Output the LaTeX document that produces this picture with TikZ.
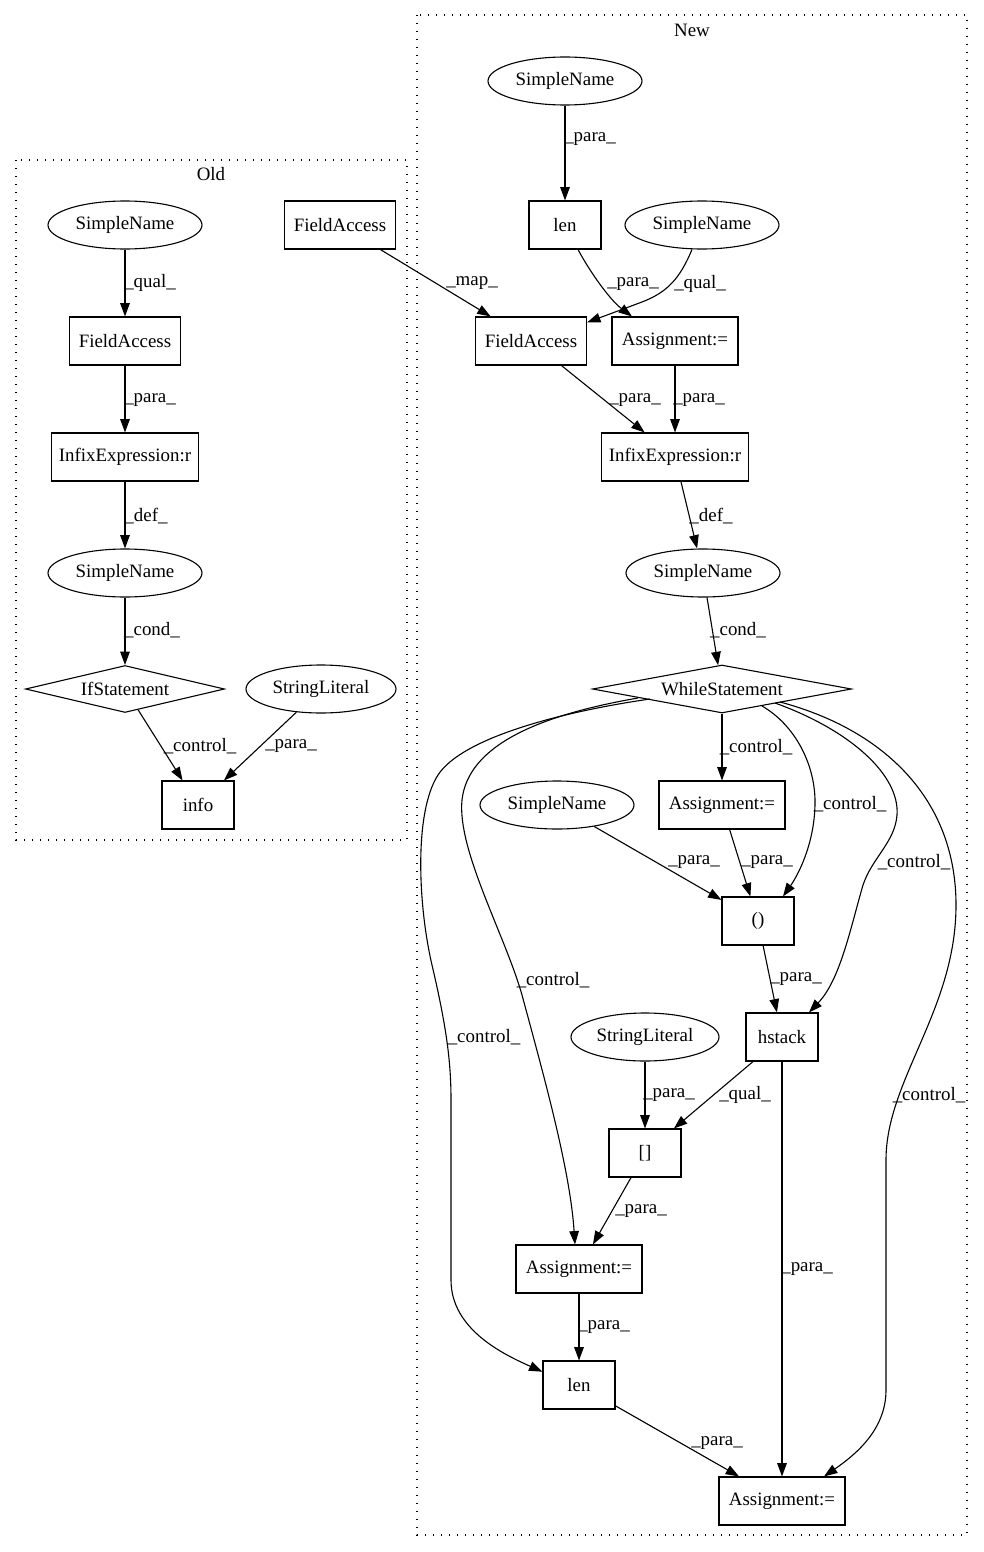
\documentclass[tikz,border=0pt]{standalone}
\usepackage{fontspec}
\setmainfont{Liberation Serif}
\usetikzlibrary{shapes.geometric,arrows.meta,calc}
\begin{document}
\begin{tikzpicture}[x=1pt,y=-1pt,
  every node/.style={font=\fontsize{18.9}{22}\selectfont},
  bx/.style={draw, rectangle, minimum height=48pt, inner sep=0pt, line width=1.1pt},
  ell/.style={draw, ellipse, minimum width=154pt, minimum height=48pt, inner sep=0pt, line width=1.1pt},
  dia/.style={draw, diamond, inner sep=0pt, line width=1.1pt},
  e/.style={draw, line width=1.1pt, -{Triangle[length=13.4pt,width=9.6pt]}},
  lb/.style={inner sep=0pt},
  cl/.style={draw, line width=1.3pt, dash pattern=on 1.3pt off 6.7pt}
]
\fill[white] (0,0) rectangle (983,1552);
\useasboundingbox (0,0) rectangle (983,1552);

% clusters
\draw[cl] (16,160) rectangle (407,840);
\draw[cl] (417,15) rectangle (967,1535);
\node (oldlbl) at (211,174) {Old};
\node (newlbl) at (692,30) {New};

% Old nodes
\node[ell] (osn1) at (125,225) {SimpleName};
\node[bx, minimum width=111pt] (ofa) at (125,341) {FieldAccess};
\node[bx, minimum width=147pt] (oinf) at (125,457) {InfixExpression:r};
\node[ell] (osn2) at (125,573) {SimpleName};
\node[dia, aspect=4.2, minimum width=199pt, minimum height=47pt] (oif) at (125,689) {IfStatement};
\node[ell, minimum width=150pt] (osl) at (321,689) {StringLiteral};
\node[bx, minimum width=72pt] (oinfo) at (198,805) {info};
\node[bx, minimum width=111pt] (ofa2) at (340,225) {FieldAccess};

% New nodes
\node[ell] (nsn1) at (565,81) {SimpleName};
\node[bx, minimum width=72pt] (nlen1) at (565,225) {len};
\node[ell] (nsn2) at (702,225) {SimpleName};
\node[bx, minimum width=111pt] (nfa) at (531,341) {FieldAccess};
\node[bx, minimum width=126pt] (nas1) at (675,341) {Assignment:=};
\node[bx, minimum width=147pt] (ninf) at (675,457) {InfixExpression:r};
\node[ell] (nsn3) at (703,573) {SimpleName};
\node[dia, aspect=5.4, minimum width=259pt, minimum height=48pt] (nwh) at (722,689) {WhileStatement};
\node[bx, minimum width=126pt] (nas2) at (722,805) {Assignment:=};
\node[ell] (nsn4) at (557,805) {SimpleName};
\node[bx, minimum width=72pt] (npar) at (758,921) {()};
\node[bx, minimum width=72pt] (nhs) at (782,1037) {hstack};
\node[ell, minimum width=148pt] (nsl) at (645,1037) {StringLiteral};
\node[bx, minimum width=72pt] (nbr) at (645,1153) {[]};
\node[bx, minimum width=126pt] (nas3) at (579,1269) {Assignment:=};
\node[bx, minimum width=72pt] (nlen2) at (579,1385) {len};
\node[bx, minimum width=126pt] (nas4) at (782,1501) {Assignment:=};

% Old edges
\draw[e] (osn1) -- (ofa);
\draw[e] (ofa) -- (oinf);
\draw[e] (oinf) -- (osn2);
\draw[e] (osn2) -- (oif);
\draw[e] (oif) -- (oinfo);
\draw[e] (osl) -- (oinfo);
\draw[e] (ofa2) -- (nfa);

% New edges
\draw[e] (nsn1) -- (nlen1);
\draw[e] ($(nlen1.south)+(13,0)$) .. controls (590,272) and (610,300) .. ($(nas1.north)+(-43,0)$);
\draw[e] ($(nsn2.south)+(-10,0)$) .. controls (680,278) and (668,292) .. (642,302) -- ($(nfa.north east)+(0,6)$);
\draw[e] (nfa) -- (ninf);
\draw[e] (nas1) -- (ninf);
\draw[e] (ninf) -- (nsn3);
\draw[e] (nsn3) -- (nwh);
\draw[e] (nwh) -- (nas2);
\draw[e] (nsn4) -- (npar);
\draw[e] (nas2) -- (npar);
\draw[e] (npar) -- (nhs);
\draw[e] (nsl) -- (nbr);
\draw[e] (nhs) -- (nbr);
\draw[e] (nhs) -- (nas4);
\draw[e] (nbr) -- (nas3);
\draw[e] (nas3) -- (nlen2);
\draw[e] (nlen2) -- (nas4);

% control curves
\draw[e] ($(nwh)+(-72,10)$) .. controls (560,712) and (462,738) .. (438,775)
  .. controls (414,812) and (418,905) .. (432,965)
  .. controls (446,1025) and (451,1060) .. (451,1100) -- (451,1280)
  .. controls (451,1330) and (505,1355) .. (nlen2.160);
\draw[e] ($(nwh)+(-84,9)$) .. controls (540,715) and (468,745) .. (462,800)
  .. controls (457,850) and (505,935) .. (522,995)
  .. controls (545,1080) and (570,1170) .. ($(nas3.north)+(-4,0)$);
\draw[e] ($(nwh)+(40,17)$) .. controls (795,725) and (816,765) .. (815,805)
  .. controls (814,845) and (798,875) .. ($(npar.north)+(25,0)$);
\draw[e] ($(nwh)+(53,14)$) .. controls (850,730) and (900,775) .. (897,815)
  .. controls (895,842) and (872,858) .. (863,885)
  .. controls (850,930) and (840,980) .. ($(nhs.north)+(27,0)$);
\draw[e] ($(nwh)+(58,13)$) .. controls (885,730) and (956,800) .. (956,905)
  .. controls (956,1010) and (886,1080) .. (886,1160) -- (886,1390)
  .. controls (886,1430) and (855,1455) .. ($(nas4.north)+(42,0)$);

% labels Old
\node[lb] (l01) at (150,283) {\_qual\_};
\node[lb] (l02) at (150,400) {\_para\_};
\node[lb] (l03) at (146,516) {\_def\_};
\node[lb] (l04) at (152,630) {\_cond\_};
\node[lb] (l05) at (200,746) {\_control\_};
\node[lb] (l06) at (291,746) {\_para\_};
\node[lb] (l07) at (472,283) {\_map\_};
% labels New
\node[lb] (l08) at (590,139) {\_para\_};
\node[lb] (l09) at (633,284) {\_para\_};
\node[lb] (l10) at (700,284) {\_qual\_};
\node[lb] (l11) at (635,400) {\_para\_};
\node[lb] (l12) at (699,400) {\_para\_};
\node[lb] (l13) at (711,516) {\_def\_};
\node[lb] (l14) at (738,630) {\_cond\_};
\node[lb] (l15) at (756,747) {\_control\_};
\node[lb] (l16) at (850,804) {\_control\_};
\node[lb] (l17) at (694,862) {\_para\_};
\node[lb] (l18) at (767,862) {\_para\_};
\node[lb] (l19) at (914,862) {\_control\_};
\node[lb] (l20) at (553,980) {\_control\_};
\node[lb] (l21) at (796,979) {\_para\_};
\node[lb] (l22) at (484,1037) {\_control\_};
\node[lb] (l23) at (669,1095) {\_para\_};
\node[lb] (l24) at (745,1095) {\_qual\_};
\node[lb] (l25) at (929,1095) {\_control\_};
\node[lb] (l26) at (641,1211) {\_para\_};
\node[lb] (l27) at (807,1269) {\_para\_};
\node[lb] (l28) at (604,1327) {\_para\_};
\node[lb] (l29) at (717,1443) {\_para\_};
\end{tikzpicture}
\end{document}
